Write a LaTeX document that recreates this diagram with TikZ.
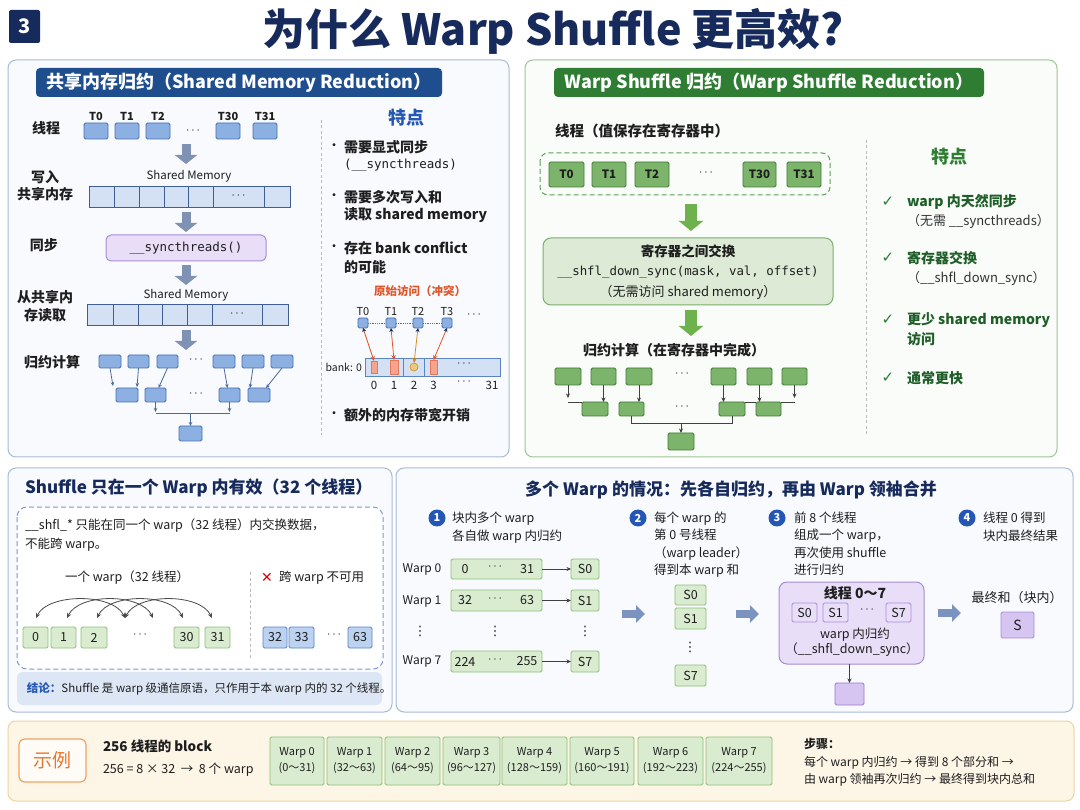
\documentclass[tikz,border=0pt]{standalone}
\usepackage{fontspec}
\setmainfont{Noto Sans CJK SC}
\newfontfamily\codefont{DejaVu Sans Mono}
\newfontfamily\symfont{DejaVu Sans}
\usetikzlibrary{arrows.meta}

\definecolor{ink}{HTML}{1E1E1E}
\definecolor{navy}{HTML}{172A5C}
\definecolor{hdrblue}{HTML}{1F4E8F}
\definecolor{panelblue}{HTML}{A8BBD8}
\definecolor{panelbg}{HTML}{F8FAFD}
\definecolor{cellblue}{HTML}{8DB0E2}
\definecolor{cellblueline}{HTML}{4470B0}
\definecolor{membar}{HTML}{D4E1F4}
\definecolor{membarline}{HTML}{3E5E95}
\definecolor{grayarrow}{HTML}{7F92B3}
\definecolor{treeline}{HTML}{4A6A9E}
\definecolor{lav}{HTML}{E8DEF7}
\definecolor{lavline}{HTML}{A88CD8}
\definecolor{lavdark}{HTML}{D6C4F1}
\definecolor{pdeep}{HTML}{9A7AD0}
\definecolor{hdrgreen}{HTML}{2E7D32}
\definecolor{panelgreen}{HTML}{9CC596}
\definecolor{panelgbg}{HTML}{F9FCF8}
\definecolor{cellgreen}{HTML}{7DB46C}
\definecolor{cellgreenline}{HTML}{3F7B35}
\definecolor{xgreen}{HTML}{DDEBD6}
\definecolor{xgreenline}{HTML}{7BAF6E}
\definecolor{greenarrow}{HTML}{6DB24C}
\definecolor{dashgreen}{HTML}{5FA05A}
\definecolor{darkgreen}{HTML}{1F5E28}
\definecolor{lightgreen}{HTML}{DAECD0}
\definecolor{lightgreenline}{HTML}{8DBE7A}
\definecolor{lightblue}{HTML}{BBD2F0}
\definecolor{lightblueline}{HTML}{5B84C4}
\definecolor{accentblue}{HTML}{2457B5}
\definecolor{dashblue}{HTML}{7A9CD0}
\definecolor{conflict}{HTML}{E0562A}
\definecolor{hitfill}{HTML}{F5A48F}
\definecolor{amber}{HTML}{D38A2A}
\definecolor{amberfill}{HTML}{EACB7A}
\definecolor{cream}{HTML}{FDF6E7}
\definecolor{creamline}{HTML}{EFD3A0}
\definecolor{orangetxt}{HTML}{E8772E}
\definecolor{orangeline}{HTML}{F2A35F}
\definecolor{concl}{HTML}{DCE6F5}
\definecolor{sepgray}{HTML}{BBBBBB}
\definecolor{sidearrow}{HTML}{7B93BF}
\definecolor{subtext}{HTML}{333333}

\newcommand\fsl[2]{\fontsize{#1}{#2}\selectfont}
% box node given by its corners: style, name, x1, y1, x2, y2, text
\newcommand\mkbox[7]{%
  \node[#1, minimum width={(#5-#3)*1pt}, minimum height={(#6-#4)*1pt}]
    (#2) at ({(#3+#5)/2},{(#4+#6)/2}) {#7};}

\begin{document}
\begin{tikzpicture}[x=1pt,y=-1pt,
  every node/.style={inner sep=0pt, outer sep=0pt, text=ink},
  panel/.style={line width=1pt, rounded corners=8pt},
  hdr/.style={rounded corners=4pt, text=white, font=\bfseries\fsl{18}{20}},
  fsbox/.style={line width=0.8pt, rounded corners=1.5pt},
  bcell/.style={fsbox, draw=cellblueline, fill=cellblue},
  gcell/.style={fsbox, draw=cellgreenline, fill=cellgreen, font=\bfseries\fsl{11.5}{14}},
  lgcell/.style={fsbox, draw=lightgreenline, fill=lightgreen, font=\fsl{12.5}{15}},
  lbcell/.style={fsbox, draw=lightblueline, fill=lightblue, font=\fsl{12.5}{15}},
  pcell/.style={fsbox, draw=lavline, fill=lav, font=\fsl{12.5}{15}},
  membarst/.style={draw=membarline, fill=membar, line width=0.9pt},
  tlab/.style={font=\bfseries\fsl{11}{13}},
  rowlbl/.style={font=\bfseries\fsl{14}{17.5}, align=center},
  bodyb/.style={font=\bfseries\fsl{14}{18}, anchor=west},
  body/.style={font=\fsl{12.5}{18}, anchor=west},
  dotsst/.style={font=\fsl{12}{14}},
  vdotsst/.style={font=\symfont\fsl{13}{14}},
  fatv/.style={draw=#1, line width=9pt, -{Triangle[width=22pt,length=9pt]}},
  fats/.style={draw=sidearrow, line width=8pt, -{Triangle[width=17pt,length=9pt]}},
  tarr/.style={draw=treeline, line width=0.8pt, -{Stealth[length=4pt,width=3.5pt]}},
  tline/.style={draw=treeline, line width=0.8pt},
  karr/.style={draw=ink!85, line width=0.8pt, -{Stealth[length=4.5pt,width=4pt]}},
  kline/.style={draw=ink!85, line width=0.8pt},
  sep/.style={draw=sepgray, line width=0.7pt, dash pattern=on 3pt off 2.5pt},
  bankarr/.style={draw=#1, line width=0.8pt, {Stealth[length=4pt,width=4pt,color=navy]}-{Stealth[length=5pt,width=4.5pt]}},
  arcarr/.style={draw=ink!80, line width=0.8pt, {Stealth[length=5pt,width=4.5pt]}-{Stealth[length=5pt,width=4.5pt]}},
  stepnum/.style={circle, fill=accentblue, minimum size=17pt, text=white, font=\bfseries\fsl{11}{12}},
  check/.style={text=hdrgreen, font=\symfont\bfseries\fsl{15}{16}}
]
% canvas
\fill[white] (0,0) rectangle (1080,810);
\useasboundingbox (0,0) rectangle (1080,810);

% ---------- title ----------
\node[fill=navy, rounded corners=2pt, minimum width=31pt, minimum height=33pt,
      text=white, font=\bfseries\fsl{20}{20}] (badge) at (24.5,26.5) {3};
\node[text=navy, font=\bfseries\fsl{43}{43}] (title) at (553,31) {为什么 Warp Shuffle 更高效?};

% ---------- shared memory reduction ----------
\draw[panel, draw=panelblue, fill=panelbg] (8,60) rectangle (509,457);
\mkbox{hdr, fill=hdrblue}{hdrL}{36}{68}{442}{97}{共享内存归约（Shared Memory Reduction）}

\node[rowlbl] (lblThreads) at (46,128) {线程};
\node[rowlbl] (lblWrite) at (45,185.5) {写入\\共享内存};
\node[rowlbl] (lblSync) at (44,245) {同步};
\node[rowlbl] (lblRead) at (45,306) {从共享内\\存读取};
\node[rowlbl] (lblReduce) at (52,362) {归约计算};

\mkbox{bcell}{ta0}{84}{123}{108}{139}{}
\mkbox{bcell}{ta1}{115}{123}{139}{139}{}
\mkbox{bcell}{ta2}{146}{123}{170}{139}{}
\node[dotsst] (tadots) at (193,131) {$\cdots$};
\mkbox{bcell}{ta30}{216}{123}{240}{139}{}
\mkbox{bcell}{ta31}{253}{123}{277}{139}{}
\foreach \n/\lab in {ta0/T0, ta1/T1, ta2/T2, ta30/T30, ta31/T31}
  \node[tlab, anchor=south] (l\n) at ([yshift=2pt]\n.north) {\lab};

\coordinate (a1s) at (186,144); \coordinate (a1e) at (186,164);
\draw[fatv=grayarrow] (a1s) -- (a1e);

\node[font=\fsl{11.5}{13}] (smlab1) at (189,176) {Shared Memory};
\mkbox{membarst}{sm1}{89}{186}{290}{207}{}
\foreach \x in {114,139,164,188,213,264} \draw[membarline, line width=0.8pt] (\x,186) -- (\x,207);
\node[dotsst] (sm1dots) at (238.5,195.5) {$\cdots$};

\coordinate (a2s) at (186,212); \coordinate (a2e) at (186,232);
\draw[fatv=grayarrow] (a2s) -- (a2e);

\mkbox{fsbox, rounded corners=5pt, draw=lavline, fill=lav, line width=1pt, font=\codefont\fsl{12.5}{14}}{sync}{106}{235}{266}{261}{\_\_syncthreads()}

\coordinate (a3s) at (186,265); \coordinate (a3e) at (186,285);
\draw[fatv=grayarrow] (a3s) -- (a3e);

\node[font=\fsl{11.5}{13}] (smlab2) at (186,295) {Shared Memory};
\mkbox{membarst}{sm2}{87}{304}{288}{325}{}
\foreach \x in {113,138,162,187,212,262} \draw[membarline, line width=0.8pt] (\x,304) -- (\x,325);
\node[dotsst] (sm2dots) at (237,313.5) {$\cdots$};

\coordinate (a4s) at (186,330); \coordinate (a4e) at (186,350);
\draw[fatv=grayarrow] (a4s) -- (a4e);

% tree of partial sums
\mkbox{bcell}{ra1}{99}{355}{121}{368}{}
\mkbox{bcell}{ra2}{128}{355}{149}{368}{}
\mkbox{bcell}{ra3}{157}{355}{178}{368}{}
\node[dotsst] (radots) at (196,360) {$\cdots$};
\mkbox{bcell}{ra5}{213}{355}{235}{368}{}
\mkbox{bcell}{ra6}{242}{355}{264}{368}{}
\mkbox{bcell}{ra7}{271}{355}{293}{368}{}
\mkbox{bcell}{ma1}{116}{388}{138}{402}{}
\mkbox{bcell}{ma2}{145}{388}{166}{402}{}
\node[dotsst] (madots) at (196,394) {$\cdots$};
\mkbox{bcell}{ma3}{219}{388}{240}{402}{}
\mkbox{bcell}{ma4}{248}{388}{270}{402}{}
\mkbox{bcell}{ba}{179}{426}{202}{441}{}
\draw[tarr] (ra1.south) -- ([xshift=-3pt,yshift=2pt]ma1.north west);
\draw[tarr] (ra2.south) -- ([xshift=-1pt,yshift=1pt]ma1.north east);
\draw[tarr] (ra3.south) -- ([xshift=3pt]ma2.north);
\draw[tarr] (ra5.south) -- ([xshift=-2pt]ma3.north);
\draw[tarr] (ra6.south) -- ([xshift=2pt]ma4.north west);
\draw[tarr] (ra7.south) -- ([xshift=-4pt]ma4.north east);
\draw[tarr] (ma2.south) -- ++(0,10);
\draw[tarr] (ma3.south) -- ++(0,10);
\draw[tline] ([yshift=-11pt]ma2.south) -- ([yshift=-11pt]ma3.south);
\draw[tarr] ([yshift=13pt]ba.north) -- (ba.north);

% features of shared memory reduction
\draw[sep] (321,120) -- (321,435);
\node[text=accentblue, font=\bfseries\fsl{18}{20}] (featL) at (406,118) {特点};
\node[font=\fsl{14}{16}] (bu1) at (334,147) {•};
\node[bodyb] (f1a) at (344,147) {需要显式同步};
\node[font=\codefont\fsl{12.5}{14}, anchor=west] (f1b) at (344,165) {(\_\_syncthreads)};
\node[font=\fsl{14}{16}] (bu2) at (334,197) {•};
\node[bodyb] (f2a) at (344,197) {需要多次写入和};
\node[bodyb] (f2b) at (344,215) {读取 shared memory};
\node[font=\fsl{14}{16}] (bu3) at (334,248) {•};
\node[bodyb] (f3a) at (344,248) {存在 bank conflict};
\node[bodyb] (f3b) at (344,267) {的可能};

\node[text=conflict, font=\bfseries\fsl{11.5}{13}] (conflictlab) at (420,291) {原始访问（冲突）};
\mkbox{bcell}{tb0}{358}{318}{368}{328}{}
\mkbox{bcell}{tb1}{386}{318}{396}{328}{}
\mkbox{bcell}{tb2}{413}{318}{423}{328}{}
\mkbox{bcell}{tb3}{442}{318}{452}{328}{}
\foreach \n/\lab in {tb0/T0, tb1/T1, tb2/T2, tb3/T3}
  \node[font=\fsl{11}{13}, anchor=south] (l\n) at ([yshift=2pt]\n.north) {\lab};
\node[dotsst] (tbdots) at (474,315) {$\cdots$};
\draw[densely dotted, cellblueline, line width=0.8pt] (tb0.east) -- (tb1.west);
\draw[densely dotted, cellblueline, line width=0.8pt] (tb1.east) -- (tb2.west);
\draw[densely dotted, cellblueline, line width=0.8pt] (tb2.east) -- (tb3.west);

\mkbox{draw=lightblueline, fill=membar, line width=0.8pt}{bank}{365}{358}{500}{376}{}
\draw[lightblueline, line width=0.6pt] (403,358) -- (403,376);
\draw[lightblueline, line width=0.6pt] (424,358) -- (424,376);
\node[font=\fsl{10.5}{12}, anchor=east] (banklab) at (362,367) {bank: 0};
\mkbox{draw=conflict!80, fill=hitfill, line width=0.6pt}{bk0}{371}{361}{377}{373}{}
\mkbox{draw=conflict!80, fill=hitfill, line width=0.6pt}{bk1}{390}{360}{398}{374}{}
\node[circle, draw=amber, fill=amberfill, line width=0.6pt, minimum size=8pt] (bk2) at (414,367) {};
\mkbox{draw=conflict!80, fill=hitfill, line width=0.6pt}{bk3}{430}{360}{437}{374}{}
\node[dotsst] (bankdots) at (464,364) {$\cdots$};
\foreach \n/\x/\lab in {b0/374/0, b1/394/1, b2/414/2, b3/433.5/3, b31/492/31}
  \node[font=\fsl{11.5}{13}] (n\n) at (\x,385) {\lab};
\node[dotsst] (bnumdots) at (464,382) {$\cdots$};
\draw[bankarr=conflict] (tb0.south) -- (bk0.north);
\draw[bankarr=conflict] (tb1.south) -- (bk1.north);
\draw[bankarr=amber] (tb2.south) -- (bk2.north);
\draw[bankarr=conflict] (tb3.south) -- (bk3.north);

\node[font=\fsl{14}{16}] (bu4) at (334,415) {•};
\node[bodyb] (f4a) at (344,415) {额外的内存带宽开销};

% ---------- warp shuffle reduction ----------
\draw[panel, draw=panelgreen, fill=panelgbg] (525,60) rectangle (1057,457);
\mkbox{hdr, fill=hdrgreen}{hdrR}{554}{68}{984}{97}{Warp Shuffle 归约（Warp Shuffle Reduction）}

\node[font=\bfseries\fsl{14.5}{16}, anchor=west] (regLab) at (555,131) {线程（值保存在寄存器中）};
\draw[draw=dashgreen, line width=1pt, dash pattern=on 5pt off 3pt, rounded corners=8pt] (540,153) rectangle (830,195);
\mkbox{gcell}{tg0}{549}{162}{584}{187}{T0}
\mkbox{gcell}{tg1}{592}{162}{626}{187}{T1}
\mkbox{gcell}{tg2}{635}{162}{669}{187}{T2}
\node[dotsst] (tgdots) at (706,173) {$\cdots$};
\mkbox{gcell}{tg30}{743}{162}{776}{187}{T30}
\mkbox{gcell}{tg31}{787}{162}{821}{187}{T31}

\coordinate (g1s) at (691,204); \coordinate (g1e) at (691,231);
\draw[draw=greenarrow, line width=12pt, -{Triangle[width=24pt,length=10pt]}] (g1s) -- (g1e);

\mkbox{fsbox, rounded corners=8pt, draw=xgreenline, fill=xgreen, line width=1pt}{xbox}{543}{238}{833}{305}{}
\node[font=\bfseries\fsl{13.5}{15}] (x1) at (688,251) {寄存器之间交换};
\node[font=\codefont\fsl{12.4}{14}] (x2) at (688,272) {\_\_shfl\_down\_sync(mask, val, offset)};
\node[font=\fsl{13}{15}] (x3) at (688,292) {（无需访问 shared memory）};

\coordinate (g2s) at (691,310); \coordinate (g2e) at (691,336);
\draw[draw=greenarrow, line width=12pt, -{Triangle[width=24pt,length=10pt]}] (g2s) -- (g2e);

\node[font=\bfseries\fsl{14}{16}] (regReduce) at (674,350) {归约计算（在寄存器中完成）};
\mkbox{gcell}{rg1}{555}{368}{581}{385}{}
\mkbox{gcell}{rg2}{591}{368}{616}{385}{}
\mkbox{gcell}{rg3}{626}{368}{652}{385}{}
\node[dotsst] (rgdots) at (682,374) {$\cdots$};
\mkbox{gcell}{rg5}{711}{368}{736}{385}{}
\mkbox{gcell}{rg6}{747}{368}{772}{385}{}
\mkbox{gcell}{rg7}{782}{368}{807}{385}{}
\mkbox{gcell}{mg1}{582}{402}{608}{416}{}
\mkbox{gcell}{mg2}{619}{402}{644}{416}{}
\node[dotsst] (mgdots) at (682,407) {$\cdots$};
\mkbox{gcell}{mg3}{719}{402}{745}{416}{}
\mkbox{gcell}{mg4}{756}{402}{781}{416}{}
\mkbox{gcell}{bg}{668}{433}{694}{450}{}
\draw[karr] (rg1.south) -- ++(0,13);
\draw[kline] (rg1.south |- mg1.north) -- (mg1.north west);
\draw[karr] (rg2.south) -- (rg2.south |- mg1.north);
\draw[karr] (rg3.south) -- (rg3.south |- mg2.north);
\draw[karr] (rg5.south) -- (rg5.south |- mg3.north);
\draw[karr] (rg6.south) -- (rg6.south |- mg4.north);
\draw[karr] (rg7.south) -- ++(0,13);
\draw[kline] (rg7.south |- mg4.north) -- (mg4.north east);
\draw[kline] (mg3.north east) -- (mg4.north west);
\draw[kline] (mg2.south) -- ++(0,7) -| (mg3.south);
\draw[karr] ([yshift=10pt]bg.north) -- (bg.north);

\draw[sep] (866,140) -- (866,435);
\node[text=hdrgreen, font=\bfseries\fsl{18}{20}] (featR) at (949,157) {特点};
\node[check] (ck1) at (888,202) {✓};
\node[bodyb, text=darkgreen] (c1a) at (907,202) {warp 内天然同步};
\node[font=\fsl{13}{15}, text=subtext, anchor=west] (c1b) at (907,221) {（无需 \_\_syncthreads）};
\node[check] (ck2) at (888,258) {✓};
\node[bodyb, text=darkgreen] (c2a) at (907,258) {寄存器交换};
\node[font=\fsl{13}{15}, text=subtext, anchor=west] (c2b) at (907,278) {（\_\_shfl\_down\_sync）};
\node[check] (ck3) at (888,320) {✓};
\node[bodyb, text=darkgreen] (c3a) at (907,320) {更少 shared memory};
\node[bodyb, text=darkgreen] (c3b) at (907,339) {访问};
\node[check] (ck4) at (888,378) {✓};
\node[bodyb, text=darkgreen] (c4a) at (907,378) {通常更快};

% ---------- shuffle scope ----------
\draw[panel, draw=panelblue, fill=panelbg] (8,468) rectangle (392,712);
\node[text=navy, font=\bfseries\fsl{17}{19}, anchor=west] (scopeTitle) at (25,488) {Shuffle 只在一个 Warp 内有效（32 个线程）};
\draw[draw=dashblue, fill=white, line width=1pt, dash pattern=on 5pt off 3pt, rounded corners=10pt] (17,507) rectangle (383,669);
\node[font=\fsl{12.5}{19}, anchor=north west, align=left] (scopeText) at (25,519) {\_\_shfl\_* 只能在同一个 warp（32 线程）内交换数据，\\不能跨 warp。};
\node[font=\fsl{12.5}{15}] (oneWarp) at (127,578) {一个 warp（32 线程）};
\draw[sep] (250,572) -- (250,658);
\node[text=red!85!black, font=\symfont\fsl{14}{15}] (cross) at (267,578) {✕};
\node[font=\fsl{12.5}{15}, anchor=west] (crossTxt) at (279,578) {跨 warp 不可用};
\mkbox{lgcell}{c0}{23}{627}{48}{648}{0}
\mkbox{lgcell}{c1}{51}{627}{76}{648}{1}
\mkbox{lgcell}{c2}{81}{627}{107}{648}{2}
\node[dotsst] (cdots) at (140,635) {$\cdots$};
\mkbox{lgcell}{c30}{174}{627}{199}{648}{30}
\mkbox{lgcell}{c31}{205}{627}{230}{648}{31}
\mkbox{lbcell}{c32}{263}{627}{287}{648}{32}
\mkbox{lbcell}{c33}{289}{627}{314}{648}{33}
\node[dotsst] (c2dots) at (334,635) {$\cdots$};
\mkbox{lbcell}{c63}{348}{627}{372}{648}{63}
\foreach \i/\x in {1/36, 2/67, 3/97, 4/125, 5/153, 6/183, 7/212}
  \coordinate (p\i) at (\x,618);
\draw[arcarr] (p1) .. controls +(12,-25) and +(-12,-25) .. (p4);
\draw[arcarr] (p2) .. controls +(12,-25) and +(-12,-25) .. (p5);
\draw[arcarr] (p3) .. controls +(12,-25) and +(-12,-25) .. (p6);
\draw[arcarr] (p4) .. controls +(12,-25) and +(-12,-25) .. (p7);
\mkbox{fill=concl, rounded corners=6pt}{conclBox}{17}{672}{382}{705}{}
\node[font=\fsl{11.5}{13}, anchor=west] (conclTxt) at (27,688.5) {{\color{accentblue}\bfseries 结论：}Shuffle 是 warp 级通信原语，只作用于本 warp 内的 32 个线程。};

% ---------- multiple warps ----------
\draw[panel, draw=panelblue, fill=panelbg] (396,468) rectangle (1073,712);
\node[text=navy, font=\bfseries\fsl{17}{19}] (multiTitle) at (731,490) {多个 Warp 的情况：先各自归约，再由 Warp 领袖合并};

\node[stepnum] (n1) at (437,518) {1};
\node[font=\fsl{12.5}{18}, anchor=north west, align=left] (s1) at (452,511.5) {块内多个 warp\\各自做 warp 内归约};
\node[stepnum] (n2) at (638,518) {2};
\node[font=\fsl{12.5}{17.5}, anchor=north west, align=left] (s2) at (654,511.5) {每个 warp 的\\第 0 号线程\\（warp leader）\\得到本 warp 和};
\node[stepnum] (n3) at (777,518) {3};
\node[font=\fsl{12.5}{17.5}, anchor=north west, align=left] (s3) at (794,511.5) {前 8 个线程\\组成一个 warp，\\再次使用 shuffle\\进行归约};
\node[stepnum] (n4) at (967,518) {4};
\node[font=\fsl{12.5}{18}, anchor=north west, align=left] (s4) at (983,511.5) {线程 0 得到\\块内最终结果};

% warps and their sums
\node[font=\fsl{12}{14}] (w0) at (422,569) {Warp 0};
\node[font=\fsl{12}{14}] (w1) at (422,601) {Warp 1};
\node[vdotsst] (wv) at (420,631) {⋮};
\node[font=\fsl{12}{14}] (w7) at (422,661) {Warp 7};
\mkbox{lgcell}{wr0}{451}{559}{542}{579}{}
\mkbox{lgcell}{wr1}{451}{590}{542}{611}{}
\mkbox{lgcell}{wr7}{451}{651}{542}{672}{}
\foreach \r/\ya/\lo/\hi in {wr0/569/0/31, wr1/600.5/32/63, wr7/661.5/224/255}{
  \node[font=\fsl{12.5}{14}] (\r lo) at (465,\ya) {\lo};
  \node[dotsst] (\r dots) at (495,\ya-2) {$\cdots$};
  \node[font=\fsl{12.5}{14}] (\r hi) at (527,\ya) {\hi};
}
\node[vdotsst] (wrv) at (495,631) {⋮};
\mkbox{lgcell}{s0}{571}{559}{599}{579}{S0}
\mkbox{lgcell}{s1}{571}{590}{599}{611}{S1}
\mkbox{lgcell}{s7}{571}{651}{599}{672}{S7}
\node[vdotsst] (sv) at (585,631) {⋮};
\draw[karr] (wr0.east) -- (s0.west);
\draw[karr] (wr1.east) -- (s1.west);
\draw[karr] (wr7.east) -- (s7.west);

\coordinate (h1s) at (622,614); \coordinate (h1e) at (645,614);
\draw[fats] (h1s) -- (h1e);

\mkbox{lgcell}{ls0}{675}{585}{706}{605}{S0}
\mkbox{lgcell}{ls1}{675}{608}{706}{629}{S1}
\node[vdotsst] (lsv) at (690,647) {⋮};
\mkbox{lgcell}{ls7}{675}{665}{706}{686}{S7}

\coordinate (h2s) at (736,614); \coordinate (h2e) at (759,614);
\draw[fats] (h2s) -- (h2e);

\mkbox{fsbox, rounded corners=8pt, draw=lavline, fill=lav, line width=1pt}{pwarp}{779}{582}{924}{664}{}
\node[font=\bfseries\fsl{14}{16}] (pw0) at (855,593) {线程 0～7};
\mkbox{pcell}{ps0}{792}{603}{817}{622}{S0}
\mkbox{pcell}{ps1}{823}{603}{848}{622}{S1}
\node[dotsst] (psdots) at (867,610) {$\cdots$};
\mkbox{pcell}{ps7}{886}{603}{911}{622}{S7}
\node[font=\fsl{12.5}{14}] (pw1) at (855,635) {warp 内归约};
\node[font=\fsl{12.5}{14}] (pw2) at (852,650) {（\_\_shfl\_down\_sync）};
\mkbox{fsbox, draw=pdeep, fill=lavdark}{pout}{835}{683}{864}{705}{}
\draw[karr] (pout.north |- pwarp.south) -- (pout.north);

\coordinate (h3s) at (938,613); \coordinate (h3e) at (961,613);
\draw[fats] (h3s) -- (h3e);

\node[font=\fsl{13}{15}] (finalLab) at (1017,598) {最终和（块内）};
\mkbox{fsbox, draw=lavline, fill=lavdark, font=\fsl{14}{16}}{fin}{1001}{612}{1034}{638}{S}

% ---------- example ----------
\draw[panel, draw=creamline, fill=cream] (8,721) rectangle (1074,801);
\mkbox{fsbox, rounded corners=6pt, draw=orangeline, fill=orange!3, line width=1.2pt, text=orangetxt, font=\fsl{19}{21}}{exLab}{19}{739}{86}{782}{示例}
\node[font=\bfseries\fsl{13.5}{15}, anchor=west] (ex1) at (103,746) {256 线程的 block};
\node[font=\fsl{12.5}{14}, anchor=west] (ex2) at (103,770) {256 = 8 × 32 \ → \ 8 个 warp};
\foreach \i/\xa/\xb/\rng in {0/270/324/0～31, 1/327/382/32～63, 2/385/440/64～95, 3/443/500/96～127,
    4/502/567/128～159, 5/570/634/160～191, 6/638/703/192～223, 7/706/772/224～255}
  \mkbox{lgcell, font=\fsl{11}{16}, align=center}{ex\i}{\xa}{737}{\xb}{785}{Warp \i\\(\rng)};
\node[font=\bfseries\fsl{12}{14}, anchor=west] (stepsLab) at (804,744) {步骤：};
\node[font=\fsl{12}{14}, anchor=west] (steps1) at (804,763) {每个 warp 内归约 → 得到 8 个部分和 →};
\node[font=\fsl{12}{14}, anchor=west] (steps2) at (804,780) {由 warp 领袖再次归约 → 最终得到块内总和};
\end{tikzpicture}
\end{document}
